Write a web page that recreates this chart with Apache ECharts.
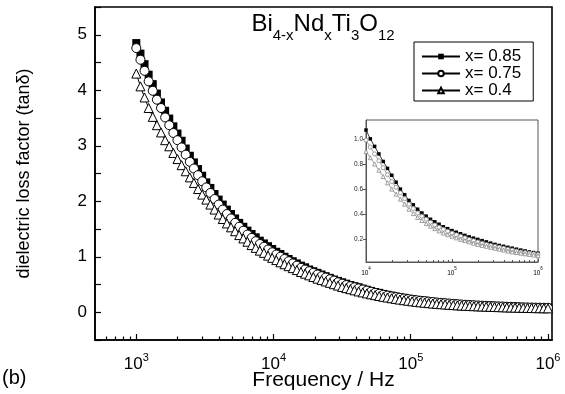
<!DOCTYPE html>
<html><head><meta charset="utf-8">
<script src="https://cdn.jsdelivr.net/npm/echarts@6/dist/echarts.min.js"></script>
<style>html,body{margin:0;padding:0;background:#fff}#c{width:565px;height:394px}</style>
</head><body><div id="c"></div>
<script>
// ---- data (frequency in Hz, dielectric loss factor tan delta) ----
const freqMain = [1000,1072,1148,1230,1318,1413,1514,1622,1738,1862,1995,2138,2291,2455,2630,2818,3020,3236,3467,3715,3981,4266,4571,4898,5248,5623,6026,6457,6918,7413,7943,8511,9120,9772,
10471,11220,12023,12882,13804,14791,15849,16982,18197,19498,20893,22387,23988,25704,27542,29512,31623,33884,36308,38905,41687,44668,47863,51286,54954,58884,63096,67608,72444,77625,83176,89125,95499,
102330,109650,117490,125890,134900,144540,154880,165960,177830,190550,204170,218780,234420,251190,269150,288400,309030,331130,354810,380190,407380,436520,467740,501190,537030,575440,616600,660690,707950,758580,812830,870960,933250,1000000];
const tanD_085 = [4.85,4.66,4.47,4.28,4.11,3.94,3.78,3.63,3.49,3.35,
3.22,3.09,2.95,2.82,2.70,2.58,2.46,2.34,2.24,2.13,
2.03,1.94,1.85,1.77,1.69,1.61,1.54,1.47,1.41,1.35,
1.29,1.24,1.19,1.14,1.09,1.05,1.00,0.96,0.92,0.88,
0.84,0.81,0.77,0.74,0.71,0.68,0.65,0.62,0.59,0.565,
0.54,0.515,0.49,0.47,0.45,0.425,0.405,0.385,0.365,0.35,
0.33,0.315,0.30,0.285,0.27,0.26,0.245,0.235,0.225,0.215,
0.21,0.20,0.19,0.18,0.175,0.17,0.165,0.158,0.152,0.146,
0.14,0.135,0.13,0.127,0.124,0.12,0.117,0.114,0.111,0.108,
0.105,0.102,0.099,0.097,0.094,0.092,0.091,0.089,0.088,0.086,
0.085];
const tanD_075 = [4.76,4.55,4.35,4.16,3.99,3.83,3.68,3.51,3.37,3.23,
3.10,2.97,2.84,2.71,2.59,2.47,2.36,2.25,2.15,2.04,
1.94,1.85,1.77,1.69,1.61,1.54,1.47,1.40,1.34,1.28,
1.23,1.18,1.13,1.08,1.04,1.00,0.96,0.92,0.88,0.84,
0.80,0.77,0.74,0.71,0.68,0.65,0.625,0.595,0.57,0.54,
0.515,0.49,0.47,0.45,0.43,0.41,0.39,0.37,0.35,0.332,
0.315,0.30,0.285,0.272,0.26,0.248,0.236,0.226,0.216,0.207,
0.20,0.192,0.184,0.176,0.169,0.163,0.157,0.151,0.145,0.14,
0.135,0.131,0.127,0.123,0.119,0.116,0.113,0.11,0.107,0.104,
0.10,0.098,0.095,0.093,0.09,0.088,0.086,0.084,0.083,0.081,
0.08];
const tanD_04 = [4.30,4.07,3.87,3.68,3.52,3.37,3.24,3.10,2.99,2.87,
2.76,2.65,2.54,2.43,2.33,2.22,2.12,2.03,1.94,1.85,
1.76,1.68,1.60,1.53,1.46,1.39,1.33,1.27,1.21,1.16,
1.11,1.07,1.02,0.98,0.94,0.90,0.865,0.83,0.795,0.76,
0.725,0.695,0.665,0.635,0.605,0.58,0.555,0.53,0.505,0.48,
0.455,0.435,0.415,0.395,0.375,0.357,0.34,0.323,0.308,0.292,
0.278,0.265,0.252,0.24,0.228,0.217,0.207,0.197,0.188,0.179,
0.171,0.164,0.157,0.151,0.145,0.14,0.134,0.129,0.124,0.12,
0.116,0.112,0.109,0.106,0.103,0.1,0.098,0.095,0.092,0.09,
0.087,0.085,0.083,0.081,0.079,0.078,0.076,0.074,0.073,0.071,
0.07];
// inset
const freqInset = [10000,11220,12589,14125,15849,17783,19953,22387,25119,28184,31623,35481,39811,44668,50119,56234,63096,70795,79433,89125,
100000,112200,125890,141250,158490,177830,199530,223870,251190,281840,316230,354810,398110,446680,501190,562340,630960,707950,794330,891250,1000000];
const inset_085 = [1.07,1.00,0.94,0.88,0.82,0.765,0.71,0.655,0.60,0.555,
0.51,0.475,0.44,0.41,0.385,0.36,0.34,0.32,0.30,0.285,
0.27,0.257,0.245,0.232,0.22,0.21,0.20,0.19,0.18,0.17,
0.16,0.152,0.145,0.137,0.13,0.122,0.115,0.108,0.10,0.095,
0.09];
const inset_075 = [0.99,0.935,0.88,0.825,0.77,0.715,0.66,0.615,0.57,0.525,
0.48,0.445,0.41,0.385,0.36,0.337,0.315,0.297,0.28,0.265,
0.25,0.237,0.225,0.212,0.20,0.19,0.18,0.17,0.16,0.152,
0.145,0.137,0.13,0.122,0.115,0.107,0.10,0.095,0.09,0.085,
0.08];
const inset_04 = [0.90,0.85,0.80,0.75,0.70,0.65,0.60,0.56,0.52,0.48,
0.44,0.405,0.375,0.35,0.325,0.305,0.285,0.267,0.25,0.237,
0.225,0.212,0.20,0.19,0.18,0.17,0.16,0.152,0.145,0.137,
0.13,0.122,0.115,0.107,0.10,0.095,0.09,0.085,0.08,0.075,
0.07];
const seriesNames = ['x= 0.85','x= 0.75','x= 0.4'];
// ticks / labels
const xMin = 500, xMax = 1070000;
const xMajorTicks = [1000,10000,100000,1000000];
const xMinorTicks = [600,700,800,900,2000,3000,4000,5000,6000,7000,8000,9000,20000,30000,40000,50000,60000,70000,80000,90000,200000,300000,400000,500000,600000,700000,800000,900000];
const yLabels = [0,1,2,3,4,5];
const insetXMinor = [20000,30000,40000,50000,60000,70000,80000,90000,200000,300000,400000,500000,600000,700000,800000,900000];
const insetYLabels = [0.2,0.4,0.6,0.8,1.0];

const FONT = '"Liberation Sans", Arial, Helvetica, sans-serif';
const lg = Math.log10;
const pair = (xs, ys) => xs.map((x, i) => [x, ys[i]]);

const chart = echarts.init(document.getElementById('c'), null, {renderer: 'canvas'});
const supRich = (big, small) => ({
  a: {fontSize: big, lineHeight: big + 4, verticalAlign: 'bottom', color: '#000', fontFamily: FONT},
  b: {fontSize: small, lineHeight: small, verticalAlign: 'top', color: '#000', fontFamily: FONT}
});

const option = {
  animation: false,
  backgroundColor: '#fff',
  textStyle: {fontFamily: FONT, color: '#000'},
  grid: [
    {left: 95, right: 13, top: 7, bottom: 54, outerBoundsMode: 'none', containLabel: false,
      show: true, borderColor: '#000', borderWidth: 1.6, backgroundColor: 'transparent'},
    {left: 366, right: 27, top: 120, bottom: 132, outerBoundsMode: 'none', containLabel: false,
      show: true, borderColor: '#555', borderWidth: 1, backgroundColor: '#fff'}
  ],
  xAxis: [
    {type: 'log', gridIndex: 0, min: xMin, max: xMax, show: false, splitLine: {show: false}},
    {type: 'value', gridIndex: 0, min: lg(xMin), max: lg(xMax), position: 'bottom',
      axisLine: {onZero: false, lineStyle: {color: '#000', width: 1.6}},
      axisTick: {inside: true, length: 6, customValues: xMajorTicks.map(lg), lineStyle: {color: '#000', width: 1.2}},
      axisLabel: {customValues: xMajorTicks.map(lg), margin: 12,
        formatter: v => '{a|10}{b|' + Math.round(v) + '}', rich: supRich(17, 11)},
      splitLine: {show: false},
      name: 'Frequency / Hz', nameLocation: 'middle', nameGap: 30, nameMoveOverlap: false,
      nameTextStyle: {fontSize: 21, color: '#000', fontFamily: FONT, verticalAlign: 'top'}},
    {type: 'value', gridIndex: 0, min: lg(xMin), max: lg(xMax), position: 'bottom',
      axisLine: {show: false, onZero: false},
      axisTick: {inside: true, length: 3.5, customValues: xMinorTicks.map(lg), lineStyle: {color: '#000', width: 1.2}},
      axisLabel: {show: false}, splitLine: {show: false}},
    {type: 'log', gridIndex: 1, min: 10000, max: 1000000, position: 'bottom',
      axisLine: {onZero: false, lineStyle: {color: '#555', width: 1}},
      axisTick: {inside: true, length: 3, lineStyle: {color: '#555'}},
      axisLabel: {margin: 4, formatter: v => '{a|10}{b|' + Math.round(lg(v)) + '}', rich: supRich(6.5, 4.5)},
      splitLine: {show: false}, minorTick: {show: false}},
    {type: 'value', gridIndex: 1, min: 4, max: 6, position: 'bottom',
      axisLine: {show: false, onZero: false},
      axisTick: {inside: true, length: 2, customValues: insetXMinor.map(lg), lineStyle: {color: '#555'}},
      axisLabel: {show: false}, splitLine: {show: false}}
  ],
  yAxis: [
    {type: 'value', gridIndex: 0, min: -0.5, max: 5.5, interval: 0.5,
      axisLine: {show: true, onZero: false, lineStyle: {color: '#000', width: 1.6}},
      axisTick: {inside: true, length: 6, lineStyle: {color: '#000', width: 1.2}},
      axisLabel: {margin: 8, fontSize: 17, color: '#000',
        formatter: v => (Math.abs(v - Math.round(v)) < 1e-6 && yLabels.indexOf(Math.round(v)) >= 0) ? String(Math.round(v)) : ''},
      splitLine: {show: false},
      name: 'dielectric loss factor (tan\u03b4)', nameLocation: 'middle', nameGap: 62,
      nameTextStyle: {fontSize: 18, color: '#000', fontFamily: FONT}},
    {type: 'value', gridIndex: 1, min: 0.02, max: 1.15,
      axisLine: {show: true, onZero: false, lineStyle: {color: '#555', width: 1}},
      axisTick: {inside: false, length: 3, customValues: insetYLabels, lineStyle: {color: '#555'}},
      axisLabel: {customValues: insetYLabels, margin: 3, fontSize: 6.5, color: '#222', formatter: v => v.toFixed(1)},
      splitLine: {show: false}}
  ],
  legend: {
    data: seriesNames, orient: 'vertical', left: 414, top: 42,
    borderColor: '#000', borderWidth: 1, padding: [6, 12, 2, 7], itemGap: 0,
    itemWidth: 38, itemHeight: 7, selectedMode: false,
    textStyle: {fontSize: 17, color: '#000', fontFamily: FONT}
  },
  graphic: [
    {type: 'text', x: 323, y: 28, z: 10, style: {
      text: '{m|Bi}{s|4-x}{m|Nd}{s|x}{m|Ti}{s|3}{m|O}{s|12}', align: 'center', verticalAlign: 'middle',
      rich: {
        m: {fontSize: 24, lineHeight: 31, verticalAlign: 'top', fill: '#000', fontFamily: FONT},
        s: {fontSize: 15, lineHeight: 15, verticalAlign: 'bottom', fill: '#000', fontFamily: FONT}
      }}},
    {type: 'text', x: 2, y: 378, style: {text: '(b)', fontSize: 20, fill: '#000', fontFamily: FONT, verticalAlign: 'middle'}}
  ],
  series: [
    {name: seriesNames[0], type: 'line', xAxisIndex: 0, yAxisIndex: 0, data: pair(freqMain, tanD_085),
      symbol: 'rect', symbolSize: 8, itemStyle: {color: '#000'}, lineStyle: {color: '#000', width: 1}, z: 2},
    {name: seriesNames[1], type: 'line', xAxisIndex: 0, yAxisIndex: 0, data: pair(freqMain, tanD_075),
      symbol: 'circle', symbolSize: 9, itemStyle: {color: '#fff', borderColor: '#000', borderWidth: 1}, lineStyle: {color: '#000', width: 1}, z: 3},
    {name: seriesNames[2], type: 'line', xAxisIndex: 0, yAxisIndex: 0, data: pair(freqMain, tanD_04),
      symbol: 'triangle', symbolSize: 9, itemStyle: {color: '#fff', borderColor: '#000', borderWidth: 1}, lineStyle: {color: '#000', width: 1}, z: 4},
    {name: 'inset 0.85', type: 'line', xAxisIndex: 3, yAxisIndex: 1, data: pair(freqInset, inset_085),
      symbol: 'rect', symbolSize: 3.5, itemStyle: {color: '#000'}, lineStyle: {color: '#000', width: 0.8}, z: 5},
    {name: 'inset 0.75', type: 'line', xAxisIndex: 3, yAxisIndex: 1, data: pair(freqInset, inset_075),
      symbol: 'circle', symbolSize: 4, itemStyle: {color: '#fff', borderColor: '#888', borderWidth: 0.8}, lineStyle: {color: '#888', width: 0.8}, z: 5},
    {name: 'inset 0.4', type: 'line', xAxisIndex: 3, yAxisIndex: 1, data: pair(freqInset, inset_04),
      symbol: 'triangle', symbolSize: 4, itemStyle: {color: '#fff', borderColor: '#888', borderWidth: 0.8}, lineStyle: {color: '#888', width: 0.8}, z: 5}
  ]
};
chart.setOption(option);
</script>
</body></html>
